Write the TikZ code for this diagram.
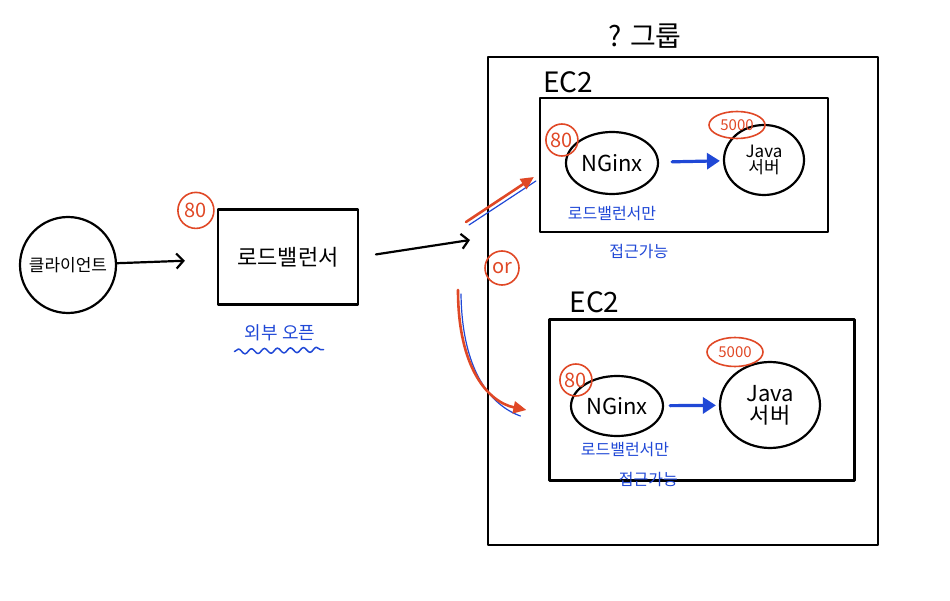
\documentclass[tikz,border=0pt]{standalone}
\usepackage{fontspec}
\setmainfont{Noto Sans CJK KR}
\usepackage{xcolor}
\usetikzlibrary{calc,arrows.meta,shapes.geometric,decorations.pathmorphing}
\definecolor{penred}{RGB}{224,72,38}
\definecolor{penblue}{RGB}{32,72,214}
\tikzset{pen/.style={line width=2.2pt,line cap=round,line join=round},
	box/.style={draw,pen},
	proc/.style={draw,pen,ellipse,inner sep=0pt},
	port label/.style={draw=penred,circle,line width=1.6pt,text=penred,inner sep=0pt,font=\fontsize{20}{20}\selectfont},
	wide port/.style={port label,ellipse,font=\fontsize{15}{15}\selectfont},
	note label/.style={text=penblue,font=\fontsize{16}{18}\selectfont},
	big label/.style={font=\fontsize{28}{30}\selectfont},
	mid label/.style={font=\fontsize{22}{24}\selectfont},
	small label/.style={font=\fontsize{17}{19}\selectfont},
	open tip/.style={-{Straight Barb[length=7pt,width=15pt]}},
	red tip/.style={penred,line width=2.6pt,-{Triangle[length=13pt,width=12pt]}},
	blue tip/.style={penblue,line width=3.2pt,-{Triangle[length=13pt,width=16pt]}}}

\begin{document}
\begin{tikzpicture}[x=1pt,y=-1pt,pen]
			\useasboundingbox (0,0) rectangle (950,601);
			% client and load balancer
			\node[proc,circle,minimum size=96pt,small label] (client) at (68,265) {클라이언트};
			\node[box,minimum width=140pt,minimum height=95pt,mid label] (lb) at (288,257) {로드밸런서};
			\node[port label,minimum size=36pt] (lbport) at ($(lb.north west)+(-21,2)$) {80};
			\node[note label,font=\fontsize{18}{20}\selectfont] (open) at (280,333) {외부 오픈};
			\draw[penblue,line width=1.5pt,decorate,decoration={snake,amplitude=2.5pt,segment length=13pt}]
				($(open.south west)+(-6,6)$) -- ($(open.south east)+(4,4)$);
			\draw[open tip,shorten >=32pt] (client) -- (lb);
			\coordinate (fork) at (470,240);
			\draw[open tip,shorten <=17pt] (lb.east) -- (fork);
			% security group
			\node[box,minimum width=390pt,minimum height=488pt] (group) at (683,301) {};
			\node[big label] (grouptitle) at ($(group.north)+(-38,-20)$) {? 그룹};
			% EC2 instances
			\node[box,minimum width=288pt,minimum height=134pt] (ec2a) at (684,165) {};
			\node[big label,anchor=south west,inner sep=0pt] (ec2alabel) at ($(ec2a.north west)+(3,-3)$) {EC2};
			\node[box,minimum width=305pt,minimum height=161pt] (ec2b) at (702,400) {};
			\node[big label,anchor=south west,inner sep=0pt] (ec2blabel) at ($(ec2b.north west)+(20,-4)$) {EC2};
			\node[proc,minimum width=92pt,minimum height=62pt,mid label] (nginxa) at (612,163) {NGinx};
			\node[proc,minimum width=80pt,minimum height=70pt,small label,align=center] (javaa) at (764,160) {Java\\[-3pt]서버};
			\node[proc,minimum width=92pt,minimum height=60pt,mid label] (nginxb) at (617,406) {NGinx};
			\node[proc,minimum width=100pt,minimum height=86pt,mid label,align=center] (javab) at (770,405) {Java\\[-2pt]서버};
			\node[port label,minimum size=32pt] (nginxaport) at ($(nginxa.west)+(-3,-23)$) {80};
			\node[port label,minimum size=32pt] (nginxbport) at ($(nginxb.west)+(6,-26)$) {80};
			\node[wide port,minimum width=56pt,minimum height=27pt] (javaaport) at (737,125) {5000};
			\node[wide port,minimum width=56pt,minimum height=29pt] (javabport) at (735,352) {5000};
			\draw[blue tip,shorten <=13pt,shorten >=3pt] (nginxa) -- (javaa);
			\draw[blue tip,shorten <=6pt,shorten >=3pt] (nginxb) -- (javab);
			\node[note label] (notea1) at ($(nginxa.south)+(0,18)$) {로드밸런서만};
			\node[note label] (notea2) at ($(ec2a.south west)+(100,18)$) {접근가능};
			\node[note label] (noteb1) at ($(nginxb.south)+(8,12)$) {로드밸런서만};
			\node[note label] (noteb2) at ($(ec2b.south west)+(100,-2)$) {접근가능};
			% load balancer picks one instance
			\node[port label,minimum size=34pt] (orlabel) at (502,268) {or};
			\coordinate (upstart) at (466,222);
			\coordinate (downstart) at (458,290);
			\draw[penblue,line width=1.2pt] ($(upstart)+(3,3)$) -- ($(ec2a.west)+(-3,16)$);
			\draw[red tip] (upstart) -- ($(ec2a.west)+(-5,12)$);
			\draw[penblue,line width=1.2pt] ($(downstart)+(3,4)$) .. controls (462,370) and (490,405) .. ($(ec2b.west)+(-28,16)$);
			\draw[red tip] (downstart) .. controls (458,368) and (488,402) .. ($(ec2b.west)+(-22,10)$);
		\end{tikzpicture}
\end{document}
